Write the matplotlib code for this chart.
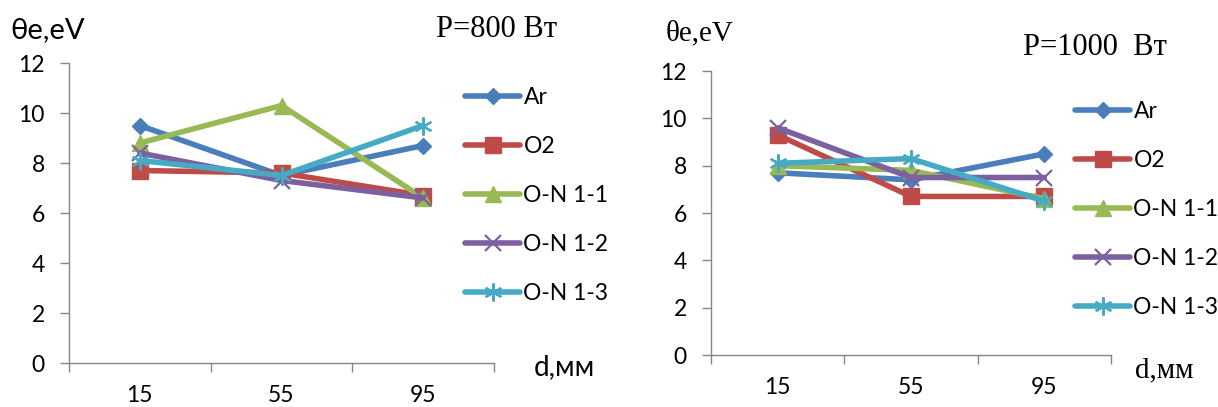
import matplotlib

matplotlib.use("Agg")
import matplotlib.pyplot as plt
from matplotlib.ticker import FixedLocator

SANS = ["Lato", "DejaVu Sans"]
SERIF = ["Liberation Serif", "DejaVu Serif"]
plt.rcParams["font.family"] = SANS

# data
distances = ["15", "55", "95"]
series_names = ["Ar", "O2", "O-N 1-1", "O-N 1-2", "O-N 1-3"]

te_800_ar = [9.5, 7.5, 8.7]
te_800_o2 = [7.7, 7.6, 6.7]
te_800_on11 = [8.8, 10.3, 6.6]
te_800_on12 = [8.4, 7.3, 6.6]
te_800_on13 = [8.1, 7.5, 9.5]

te_1000_ar = [7.7, 7.4, 8.5]
te_1000_o2 = [9.3, 6.7, 6.7]
te_1000_on11 = [8.0, 7.8, 6.6]
te_1000_on12 = [9.6, 7.5, 7.5]
te_1000_on13 = [8.1, 8.3, 6.5]

yticks = [0, 2, 4, 6, 8, 10, 12]

# Excel 2010 style
LINE_COLORS = ["#4a7ebb", "#be4b48", "#98b954", "#7d60a0", "#46aac5"]
MARKERS = [
    dict(marker="D", ms=8.5),
    dict(marker="s", ms=12),
    dict(marker="^", ms=12),
    dict(marker="x", ms=11, mew=1.6),
    dict(marker=(6, 2, 0), ms=13, mew=1.6),
]
AXIS_GRAY = "#868686"
FS = 16.5

W, H = 1218, 407


def px_box(x0, x1, ytop, ybot):
    return [x0 / W, 1 - ybot / H, (x1 - x0) / W, (ybot - ytop) / H]


def draw_panel(fig, rect, data, legend_xy):
    ax = fig.add_axes(rect)
    x = list(range(len(distances)))
    for vals, name, col, mk in zip(data, series_names, LINE_COLORS, MARKERS):
        ax.plot(x, vals, color=col, lw=4, label=name, mfc=col, mec=col,
                solid_capstyle="round", solid_joinstyle="round", **mk)

    ax.set_xlim(-0.5, len(distances) - 0.5)
    ax.set_ylim(0, 12)
    ax.set_yticks(yticks)
    ax.xaxis.set_major_locator(FixedLocator([i - 0.5 for i in range(len(distances) + 1)]))
    ax.xaxis.set_minor_locator(FixedLocator(x))
    ax.set_xticklabels([], minor=False)
    ax.set_xticklabels(distances, minor=True)

    for s in ["top", "right"]:
        ax.spines[s].set_visible(False)
    for s in ["left", "bottom"]:
        ax.spines[s].set_color(AXIS_GRAY)
        ax.spines[s].set_linewidth(1.0)
    ax.tick_params(axis="both", which="major", direction="out", length=6.5,
                   width=1.0, color=AXIS_GRAY, labelsize=FS, labelcolor="black")
    ax.tick_params(axis="y", pad=11)
    ax.tick_params(axis="x", which="minor", length=0, pad=16, labelsize=FS)
    ax.set_facecolor("none")

    fig.legend(*ax.get_legend_handles_labels(), loc="upper left",
               bbox_to_anchor=(legend_xy[0] / W, 1 - legend_xy[1] / H),
               frameon=False, handlelength=2.4, handletextpad=0.15,
               labelspacing=1.22, borderpad=0, borderaxespad=0,
               prop={"family": SANS, "size": FS})
    return ax


fig = plt.figure(figsize=(W / 100, H / 100), dpi=100)
fig.patch.set_facecolor("white")

draw_panel(fig, px_box(69, 494, 63, 363),
           [te_800_ar, te_800_o2, te_800_on11, te_800_on12, te_800_on13], (465, 87))
draw_panel(fig, px_box(711, 1111, 71, 355),
           [te_1000_ar, te_1000_o2, te_1000_on11, te_1000_on12, te_1000_on13], (1075, 101))

# titles and axis names
fig.text(10 / W, 1 - 38 / H, "θe,eV", fontsize=21, family=SANS, va="baseline")
fig.text(436 / W, 1 - 37 / H, "P=800 Вт", fontsize=22, family=SERIF, va="baseline")
fig.text(534 / W, 1 - 375 / H, "d,мм", fontsize=20, family=SANS, va="baseline")

fig.text(666 / W, 1 - 40 / H, "θe,eV", fontsize=21, family=SERIF, va="baseline")
fig.text(1023 / W, 1 - 55 / H, "P=1000  Вт", fontsize=22, family=SERIF, va="baseline")
fig.text(1135 / W, 1 - 377 / H, "d,мм", fontsize=21, family=SERIF, va="baseline")

fig.savefig("out.png", dpi=100, facecolor="white")
